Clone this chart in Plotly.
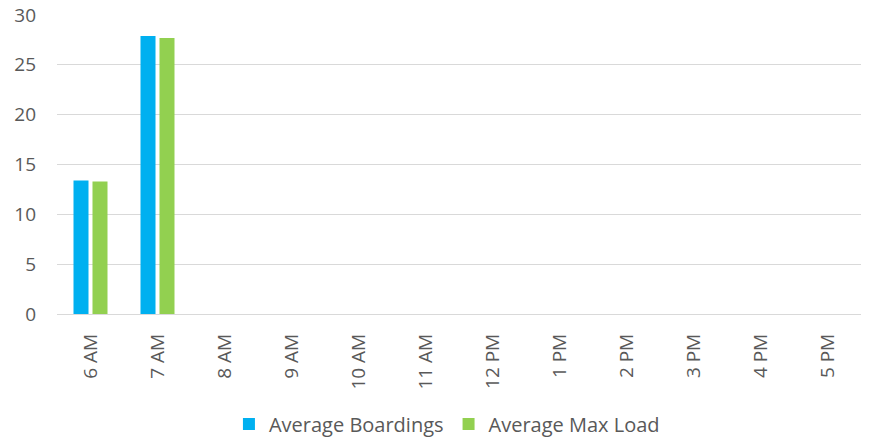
import plotly.graph_objects as go

# Hourly ridership by departure time
hours = ["6 AM", "7 AM", "8 AM", "9 AM", "10 AM", "11 AM",
         "12 PM", "1 PM", "2 PM", "3 PM", "4 PM", "5 PM"]
avg_boardings = [13.4, 27.9, 0, 0, 0, 0, 0, 0, 0, 0, 0, 0]
avg_max_load = [13.3, 27.7, 0, 0, 0, 0, 0, 0, 0, 0, 0, 0]

FONT = "Open Sans"
TEXT = "#595959"

fig = go.Figure()
fig.add_trace(go.Bar(name="Average Boardings", x=hours, y=avg_boardings,
                     marker=dict(color="#00B0F0", line=dict(width=0))))
fig.add_trace(go.Bar(name="Average Max Load", x=hours, y=avg_max_load,
                     marker=dict(color="#92D050", line=dict(width=0))))

fig.update_layout(
    width=871, height=438,
    margin=dict(l=57, r=10, t=15, b=124, autoexpand=False),
    paper_bgcolor="white", plot_bgcolor="white",
    barmode="group", bargap=0.433, bargroupgap=0.21,
    font=dict(family=FONT, size=17, color=TEXT),
    showlegend=True,
    legend=dict(orientation="h", x=0.485, xanchor="center",
                yref="container", y=0.032, yanchor="middle",
                font=dict(family=FONT, size=20, color=TEXT),
                itemwidth=30, traceorder="normal"),
)
fig.update_xaxes(tickangle=-90, showgrid=False, showline=False, ticks="",
                 ticklabelstandoff=15,
                 tickfont=dict(family=FONT, size=19, color=TEXT))
fig.update_yaxes(range=[0, 30], dtick=5, showgrid=True, gridcolor="#D9D9D9",
                 gridwidth=1, zeroline=True, zerolinecolor="#D9D9D9",
                 zerolinewidth=1, showline=False, ticks="",
                 ticklabelstandoff=20,
                 tickfont=dict(family=FONT, size=19, color=TEXT))

fig.write_html("out.html")
